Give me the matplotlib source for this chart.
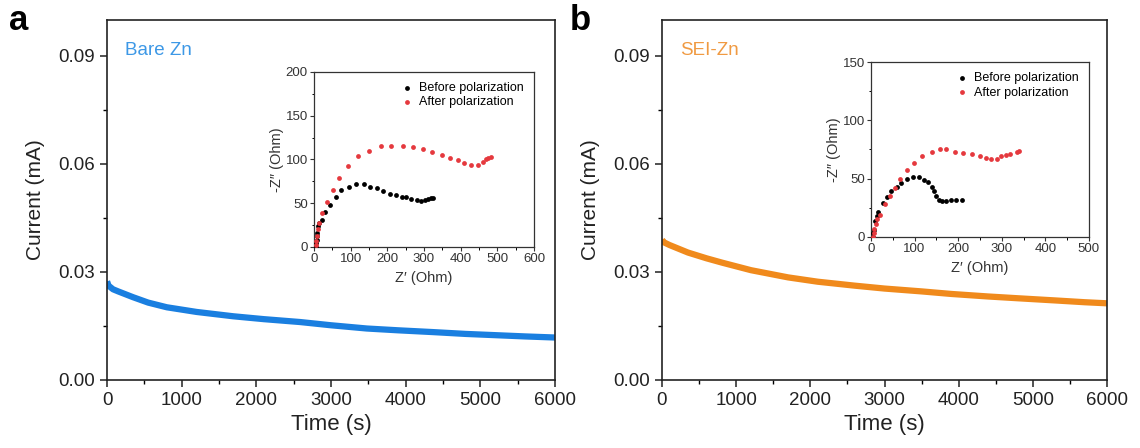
import matplotlib
matplotlib.use("Agg")
import matplotlib.pyplot as plt
from matplotlib.ticker import MultipleLocator

plt.rcParams['font.family'] = ['Liberation Sans', 'DejaVu Sans']

# chronoamperometry, panel a (Bare Zn)
t_bare = [0, 20, 80, 150, 348, 550, 800, 1200, 1690, 2100, 2585, 3000, 3480, 3900, 4370, 4800, 5260, 5600, 6000]
i_bare = [0.0274, 0.0262, 0.0252, 0.0246, 0.0230, 0.0215, 0.0202, 0.0189, 0.0177, 0.0169, 0.0161, 0.0152, 0.0143, 0.0138, 0.0133, 0.0128, 0.0124, 0.0121, 0.0118]

# panel b (SEI-Zn)
t_sei = [0, 20, 100, 350, 600, 809, 1200, 1700, 2100, 2600, 3000, 3505, 3900, 4395, 4800, 5300, 5700, 6000]
i_sei = [0.0390, 0.0383, 0.0375, 0.0354, 0.0338, 0.0326, 0.0305, 0.0285, 0.0273, 0.0262, 0.0254, 0.0246, 0.0239, 0.0232, 0.0227, 0.0221, 0.0216, 0.0213]

# EIS insets, panel a
za_before_x = [5, 6, 7, 8, 9, 11.8, 15, 21, 30, 43.6, 59, 75, 95, 116, 136, 154, 172, 189, 207, 223, 239, 252, 266, 280, 293, 302, 311, 320, 325]
za_before_y = [0, 4, 8, 12, 16, 23.6, 27, 31, 40, 48, 57, 65, 69, 72, 72, 69, 67, 64, 61, 59, 57.5, 57, 55, 54, 53, 54, 55, 56, 56]
za_after_x = [5, 6, 8, 10, 13, 21, 36, 51, 69, 92, 119, 151, 182, 211, 243, 269, 298, 323, 350, 372, 393, 408, 427, 447, 461, 468, 475, 482]
za_after_y = [2, 7, 13, 20, 27, 39, 51, 65, 79, 92, 104, 110, 115, 115, 115, 114, 112, 108, 105, 102, 99, 96, 94, 94, 97, 100, 102, 103]

# EIS insets, panel b
zb_before_x = [4, 5, 7, 9, 13, 17, 27, 37, 47, 59, 70, 83, 97, 110, 121, 131, 139, 144, 150, 156, 164, 173, 183, 195, 208]
zb_before_y = [0, 3, 6, 14, 18, 21, 29, 34, 39, 43, 46, 50, 51, 51, 49, 47, 43, 39, 35, 32, 31, 31, 31.5, 31.5, 32]
zb_after_x = [5, 6, 8, 11, 15, 21, 32, 44, 55, 66, 82, 98, 118, 139, 158, 173, 192, 211, 231, 250, 265, 276, 288, 299, 309, 320, 334, 340]
zb_after_y = [0, 3, 7, 11, 15, 19, 28, 35, 42, 50, 57, 63, 69, 73, 75, 75, 73, 72, 71, 69, 68, 67, 67, 69, 70.5, 71, 72.5, 74]

blue = '#1a7fe0'
orange = '#f08a1c'
red = '#e5393e'

fig = plt.figure(figsize=(11.4, 4.48), dpi=100)


def main_panel(rect, t, i, color, label, label_color):
    ax = fig.add_axes(rect)
    ax.plot(t, i, color=color, lw=4.5, solid_capstyle='butt')
    ax.set_xlim(0, 6000)
    ax.set_ylim(0, 0.1)
    ax.xaxis.set_major_locator(MultipleLocator(1000))
    ax.xaxis.set_minor_locator(MultipleLocator(500))
    ax.yaxis.set_major_locator(MultipleLocator(0.03))
    ax.yaxis.set_minor_locator(MultipleLocator(0.015))
    ax.yaxis.set_major_formatter(plt.FormatStrFormatter('%.2f'))
    ax.tick_params(which='major', direction='out', length=5, width=1.1, labelsize=13.5, colors='#222222')
    ax.tick_params(which='minor', direction='out', length=3, width=1.0)
    for s in ax.spines.values():
        s.set_linewidth(1.2)
        s.set_color('#222222')
    ax.set_xlabel('Time (s)', fontsize=16, color='#222222', labelpad=4)
    ax.set_ylabel('Current (mA)', fontsize=15, color='#222222', labelpad=10)
    ax.text(0.04, 0.915, label, transform=ax.transAxes, color=label_color,
            fontsize=13.5, va='center', ha='left')
    return ax


def inset(rect, bx, by, ax_, ay, xmax, ymax, xstep, ystep):
    ax = fig.add_axes(rect)
    ax.scatter(bx, by, s=12, color='black', label='Before polarization', zorder=3, linewidths=0)
    ax.scatter(ax_, ay, s=12, color=red, label='After polarization', zorder=3, linewidths=0)
    ax.set_xlim(0, xmax)
    ax.set_ylim(0, ymax)
    ax.xaxis.set_major_locator(MultipleLocator(xstep))
    ax.xaxis.set_minor_locator(MultipleLocator(xstep / 2))
    ax.yaxis.set_major_locator(MultipleLocator(ystep))
    ax.yaxis.set_minor_locator(MultipleLocator(ystep / 2))
    ax.tick_params(which='major', direction='out', length=3, width=0.8, labelsize=9.5, pad=1.5, colors='#333333')
    ax.tick_params(which='minor', direction='out', length=1.8, width=0.7)
    for s in ax.spines.values():
        s.set_linewidth(0.9)
        s.set_color('#333333')
    ax.set_xlabel('Z\u2032 (Ohm)', fontsize=10.5, color='#333333', labelpad=4)
    ax.set_ylabel('-Z\u2033 (Ohm)', fontsize=10.5, color='#333333', labelpad=1)
    ax.legend(loc='upper right', frameon=False, fontsize=9, handletextpad=0.4,
              borderaxespad=0.4, labelspacing=0.2, markerscale=1.0, handlelength=1.2)
    return ax


main_panel([0.0939, 0.1518, 0.3930, 0.8036], t_bare, i_bare, blue, 'Bare Zn', '#3d98e6')
main_panel([0.5807, 0.1518, 0.3904, 0.8036], t_sei, i_sei, orange, 'SEI-Zn', '#f09a42')

inset([0.2754, 0.4487, 0.1930, 0.3906], za_before_x, za_before_y, za_after_x, za_after_y, 600, 200, 100, 50)
inset([0.7640, 0.4710, 0.1912, 0.3906], zb_before_x, zb_before_y, zb_after_x, zb_after_y, 500, 150, 100, 50)

fig.text(0.008, 0.955, 'a', fontsize=25, fontweight='bold', va='center')
fig.text(0.500, 0.955, 'b', fontsize=25, fontweight='bold', va='center')

fig.savefig('out.png', dpi=100)
